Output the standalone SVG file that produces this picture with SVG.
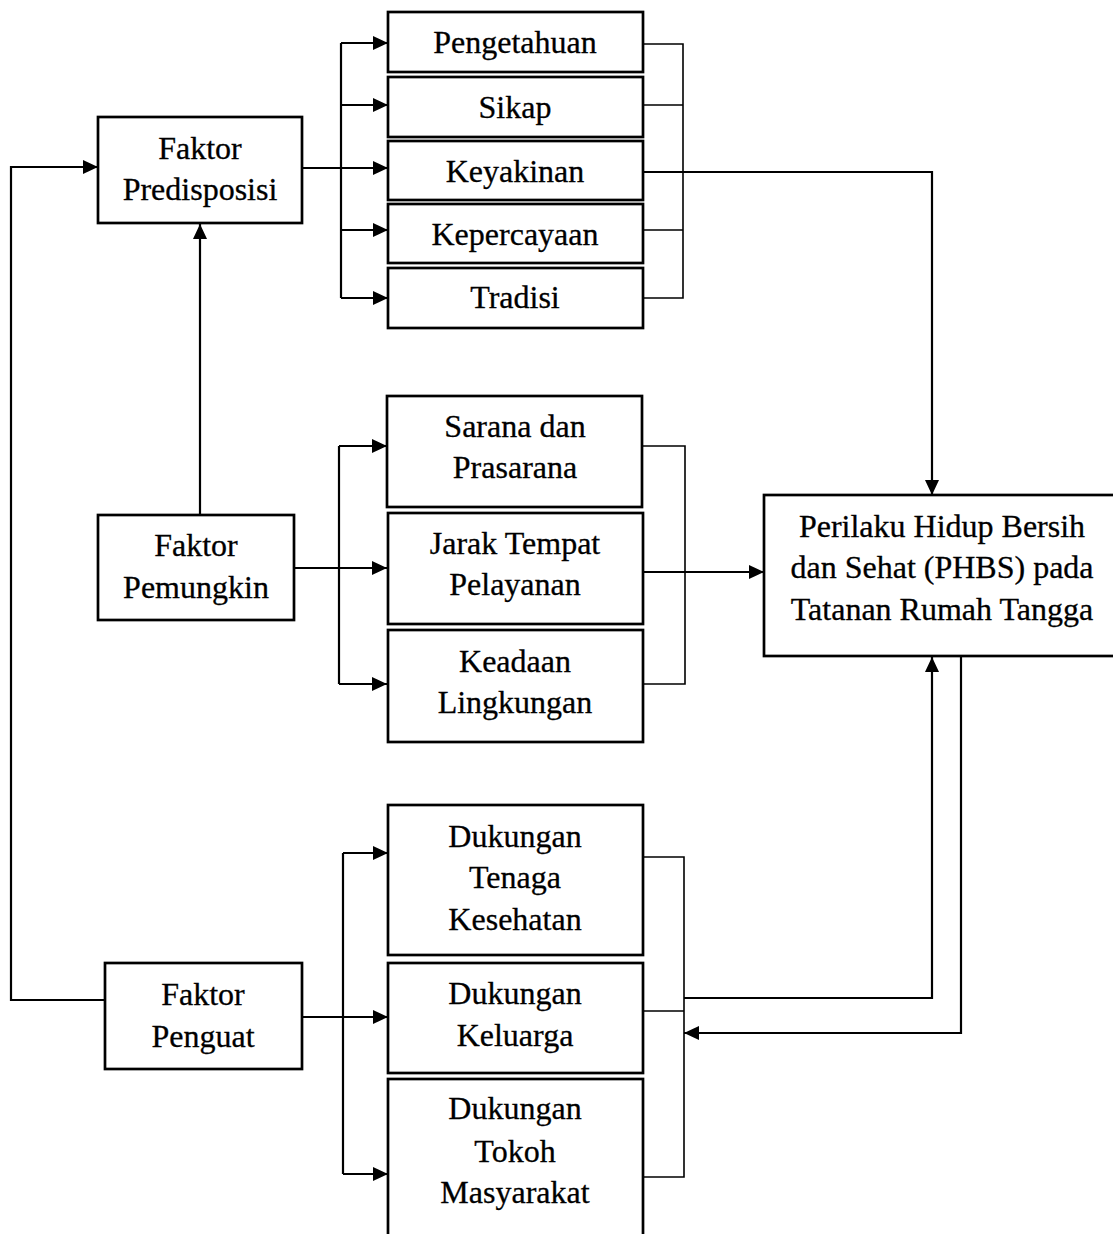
<svg xmlns="http://www.w3.org/2000/svg" width="1113" height="1234" viewBox="0 0 1113 1234">
<style>
.box{fill:#fff;stroke:#000;stroke-width:2.7}
.t{font-family:"Liberation Serif","Times New Roman",serif;font-size:32px;fill:#000;stroke:#000;stroke-width:0.3;text-anchor:middle}
.c{fill:none;stroke:#000;stroke-width:2.2}
.b{fill:none;stroke:#000;stroke-width:1.6}
</style>
<defs>
<marker id="ar" markerUnits="userSpaceOnUse" markerWidth="16" markerHeight="16" viewBox="0 0 16 16" refX="15" refY="8" orient="auto">
<path d="M0,1 L15,8 L0,15 Z" fill="#000"/>
</marker>
</defs>
<rect width="1113" height="1234" fill="#fff"/>
<g id="connectors">
<path class="c" d="M302,168 H388" marker-end="url(#ar)"/>
<path class="c" d="M341,43 V298"/>
<path class="c" d="M341,43 H388" marker-end="url(#ar)"/>
<path class="c" d="M341,105 H388" marker-end="url(#ar)"/>
<path class="c" d="M341,230 H388" marker-end="url(#ar)"/>
<path class="c" d="M341,298 H388" marker-end="url(#ar)"/>
<path class="b" d="M643,44 H683 V298 H643 M643,105 H683 M643,230 H683"/>
<path class="c" d="M643,172 H932 V495" marker-end="url(#ar)"/>
<path class="c" d="M200,515 V224" marker-end="url(#ar)"/>
<path class="c" d="M105,1000 H11 V167 H98" marker-end="url(#ar)"/>
<path class="c" d="M294,568 H387" marker-end="url(#ar)"/>
<path class="c" d="M339,446 V684"/>
<path class="c" d="M339,446 H387" marker-end="url(#ar)"/>
<path class="c" d="M339,684 H387" marker-end="url(#ar)"/>
<path class="b" d="M643,446 H685 V684 H643"/>
<path class="c" d="M643,572 H764" marker-end="url(#ar)"/>
<path class="c" d="M302,1017 H388" marker-end="url(#ar)"/>
<path class="c" d="M343,853 V1174"/>
<path class="c" d="M343,853 H388" marker-end="url(#ar)"/>
<path class="c" d="M343,1174 H388" marker-end="url(#ar)"/>
<path class="b" d="M643,857 H684 V1177 H643 M643,1011 H684"/>
<path class="c" d="M684,998 H932 V657" marker-end="url(#ar)"/>
<path class="c" d="M961,656 V1033 H684" marker-end="url(#ar)"/>
</g>
<g id="n-predisposisi"><rect class="box" x="98" y="117" width="204" height="106"/><text class="t" x="200" y="159">Faktor</text><text class="t" x="200" y="200">Predisposisi</text></g>
<g id="n-pengetahuan"><rect class="box" x="388" y="12" width="255" height="60"/><text class="t" x="515" y="53">Pengetahuan</text></g>
<g id="n-sikap"><rect class="box" x="388" y="77" width="255" height="60"/><text class="t" x="515" y="118">Sikap</text></g>
<g id="n-keyakinan"><rect class="box" x="388" y="141" width="255" height="59"/><text class="t" x="515" y="182">Keyakinan</text></g>
<g id="n-kepercayaan"><rect class="box" x="388" y="204" width="255" height="59"/><text class="t" x="515" y="245">Kepercayaan</text></g>
<g id="n-tradisi"><rect class="box" x="388" y="268" width="255" height="60"/><text class="t" x="515" y="308">Tradisi</text></g>
<g id="n-pemungkin"><rect class="box" x="98" y="515" width="196" height="105"/><text class="t" x="196" y="556">Faktor</text><text class="t" x="196" y="598">Pemungkin</text></g>
<g id="n-sarana"><rect class="box" x="387" y="396" width="255" height="111"/><text class="t" x="515" y="437">Sarana dan</text><text class="t" x="515" y="478">Prasarana</text></g>
<g id="n-jarak"><rect class="box" x="388" y="513" width="255" height="111"/><text class="t" x="515" y="554">Jarak Tempat</text><text class="t" x="515" y="595">Pelayanan</text></g>
<g id="n-keadaan"><rect class="box" x="388" y="630" width="255" height="112"/><text class="t" x="515" y="672">Keadaan</text><text class="t" x="515" y="713">Lingkungan</text></g>
<g id="n-phbs"><rect class="box" x="764" y="495" width="360" height="161"/><text class="t" x="942" y="537">Perilaku Hidup Bersih</text><text class="t" x="942" y="578">dan Sehat (PHBS) pada</text><text class="t" x="942" y="620">Tatanan Rumah Tangga</text></g>
<g id="n-penguat"><rect class="box" x="105" y="963" width="197" height="106"/><text class="t" x="203" y="1005">Faktor</text><text class="t" x="203" y="1047">Penguat</text></g>
<g id="n-tenaga"><rect class="box" x="388" y="805" width="255" height="150"/><text class="t" x="515" y="847">Dukungan</text><text class="t" x="515" y="888">Tenaga</text><text class="t" x="515" y="930">Kesehatan</text></g>
<g id="n-keluarga"><rect class="box" x="388" y="963" width="255" height="110"/><text class="t" x="515" y="1004">Dukungan</text><text class="t" x="515" y="1046">Keluarga</text></g>
<g id="n-tokoh"><rect class="box" x="388" y="1079" width="255" height="170"/><text class="t" x="515" y="1119">Dukungan</text><text class="t" x="515" y="1162">Tokoh</text><text class="t" x="515" y="1203">Masyarakat</text></g>
</svg>
